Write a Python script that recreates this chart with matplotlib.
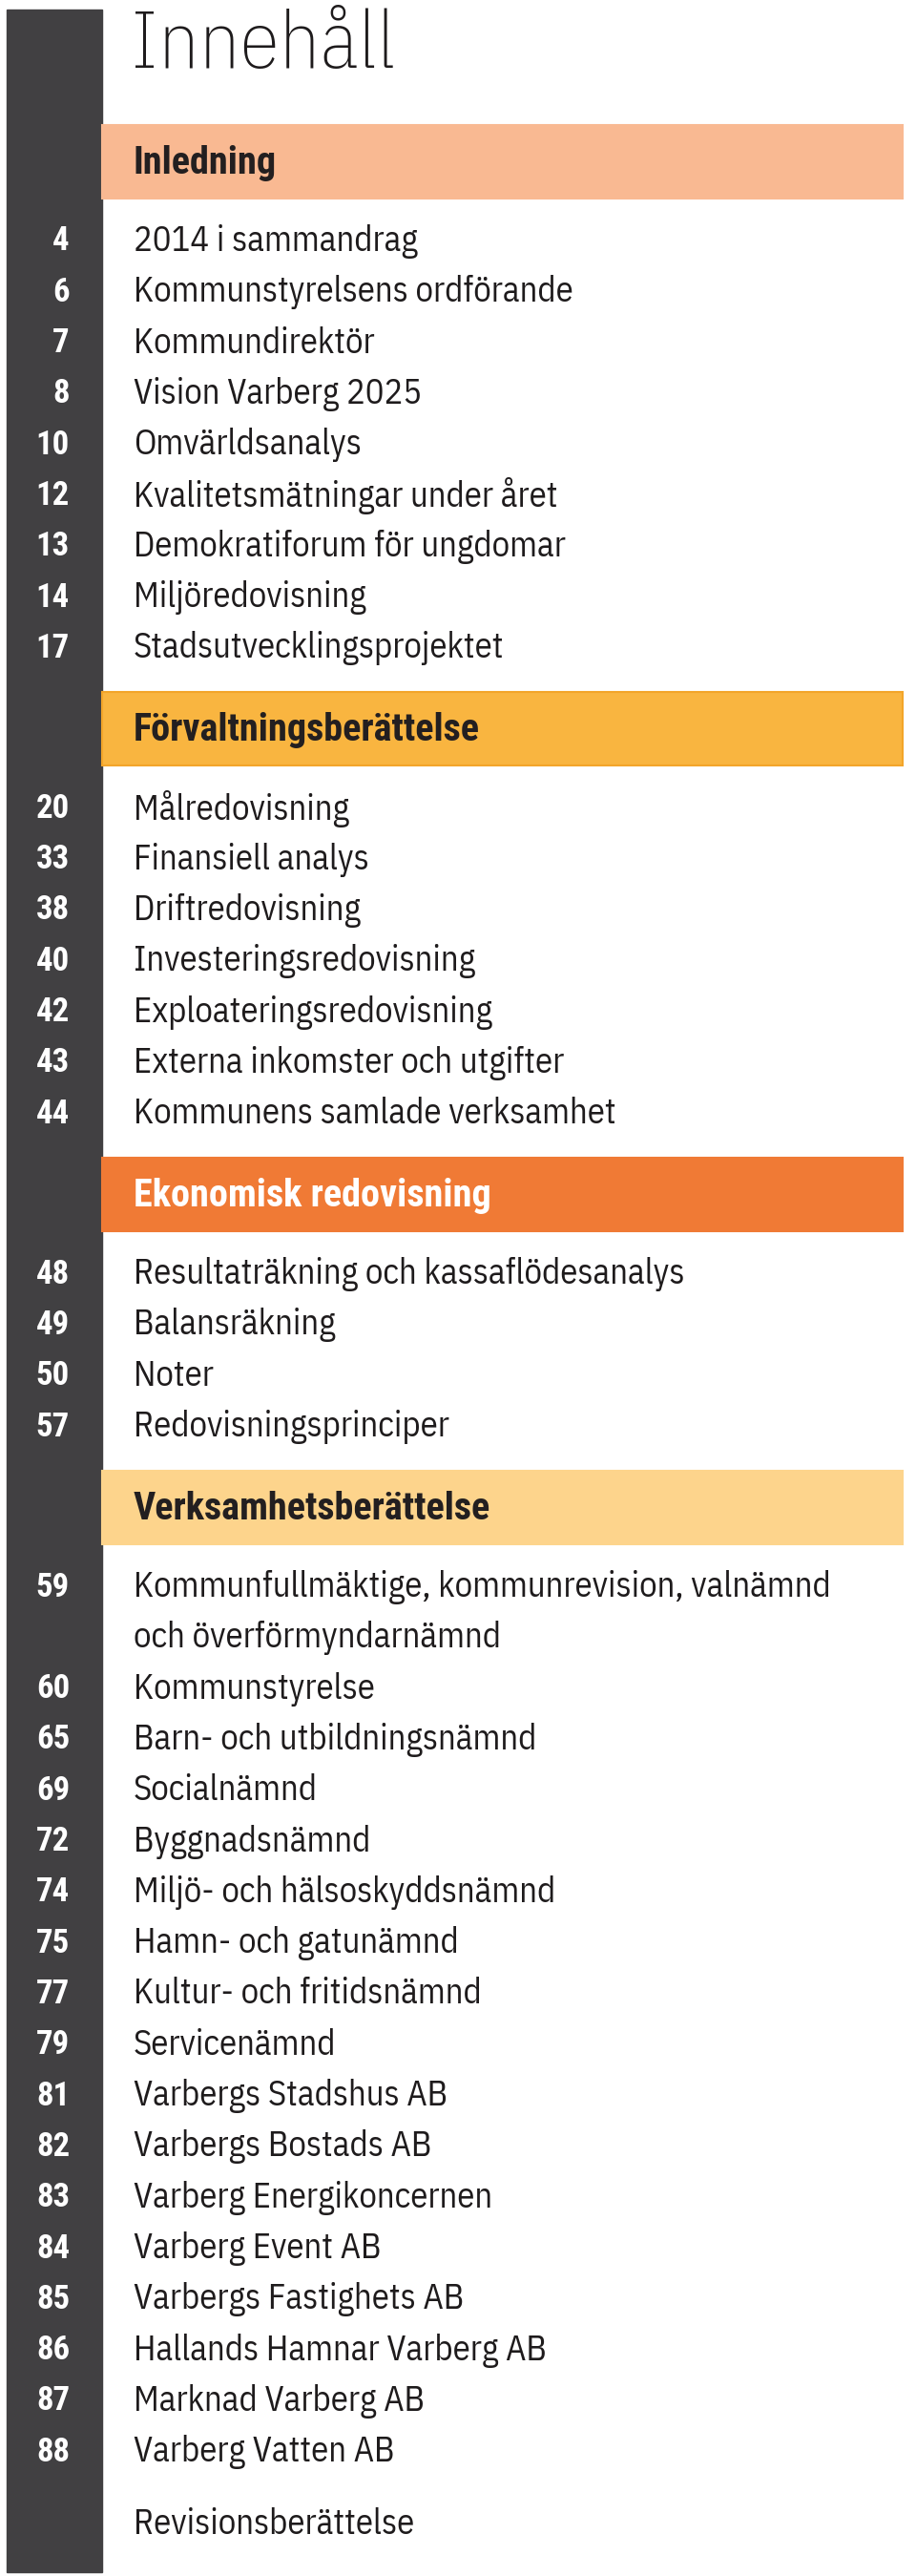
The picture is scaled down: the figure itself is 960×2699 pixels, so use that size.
import matplotlib.pyplot as plt
from matplotlib.patches import Rectangle

title = "Innehåll"
sections = ["Inledning", "Förvaltningsberättelse", "Ekonomisk redovisning", "Verksamhetsberättelse"]
section_colors = ["#F9B992", "#F9B540", "#F07A35", "#FDD48C"]
section_text_colors = ["#231F20", "#231F20", "#FFFFFF", "#231F20"]

pages_1 = ["4", "6", "7", "8", "10", "12", "13", "14", "17"]
items_1 = ["2014 i sammandrag", "Kommunstyrelsens ordförande", "Kommundirektör",
           "Vision Varberg 2025", "Omvärldsanalys", "Kvalitetsmätningar under året",
           "Demokratiforum för ungdomar", "Miljöredovisning", "Stadsutvecklingsprojektet"]

pages_2 = ["20", "33", "38", "40", "42", "43", "44"]
items_2 = ["Målredovisning", "Finansiell analys", "Driftredovisning", "Investeringsredovisning",
           "Exploateringsredovisning", "Externa inkomster och utgifter",
           "Kommunens samlade verksamhet"]

pages_3 = ["48", "49", "50", "57"]
items_3 = ["Resultaträkning och kassaflödesanalys", "Balansräkning", "Noter",
           "Redovisningsprinciper"]

pages_4 = ["59", "", "60", "65", "69", "72", "74", "75", "77", "79", "81", "82", "83",
           "84", "85", "86", "87", "88"]
items_4 = ["Kommunfullmäktige, kommunrevision, valnämnd", "och överförmyndarnämnd",
           "Kommunstyrelse", "Barn- och utbildningsnämnd", "Socialnämnd", "Byggnadsnämnd",
           "Miljö- och hälsoskyddsnämnd", "Hamn- och gatunämnd", "Kultur- och fritidsnämnd",
           "Servicenämnd", "Varbergs Stadshus AB", "Varbergs Bostads AB",
           "Varberg Energikoncernen", "Varberg Event AB", "Varbergs Fastighets AB",
           "Hallands Hamnar Varberg AB", "Marknad Varberg AB", "Varberg Vatten AB"]

last_item = "Revisionsberättelse"

pages = [pages_1, pages_2, pages_3, pages_4]
items = [items_1, items_2, items_3, items_4]

LIGHT_FONT = ['IBM Plex Sans Condensed', 'Roboto Condensed', 'DejaVu Sans']
BOLD_FONT = ['Roboto Condensed', 'Archivo Narrow', 'DejaVu Sans']
DARK = "#414042"
INK = "#1E1B1C"

fig = plt.figure(figsize=(9.6, 26.99), dpi=100)
ax = fig.add_axes([0, 0, 1, 1])
ax.set_xlim(0, 960)
ax.set_ylim(2699, 0)
ax.axis('off')

# dark page-number column
ax.add_patch(Rectangle((7, 10), 100, 2685, color=DARK, zorder=0))

ax.text(137, 71, title, fontsize=61, fontweight='light', color=INK, family=LIGHT_FONT,
        ha='left', va='baseline')

pitch = 53.3
band_h = 77
y = 131
for s, name in enumerate(sections):
    ec = "#F3A52A" if s == 1 else section_colors[s]
    ax.add_patch(Rectangle((107, y), 839, band_h, facecolor=section_colors[s],
                           edgecolor=ec, lw=1.5, zorder=1))
    ax.text(140, y + band_h / 2 + 1, name, fontsize=29, fontweight='bold',
            color=section_text_colors[s], family=BOLD_FONT, ha='left', va='center')
    y += band_h + 45
    for p, t in zip(pages[s], items[s]):
        ax.text(73, y, p, fontsize=25, fontweight='bold', color='white', family=BOLD_FONT,
                ha='right', va='center')
        ax.text(140, y, t, fontsize=26.5, fontweight='normal', color=INK, family=LIGHT_FONT,
                ha='left', va='center')
        y += pitch
    y += 46 - pitch

y += 76 - 46
ax.text(140, y, last_item, fontsize=26.5, fontweight='normal', color=INK, family=LIGHT_FONT,
        ha='left', va='center')

fig.savefig("out.png", dpi=100, facecolor='white')
